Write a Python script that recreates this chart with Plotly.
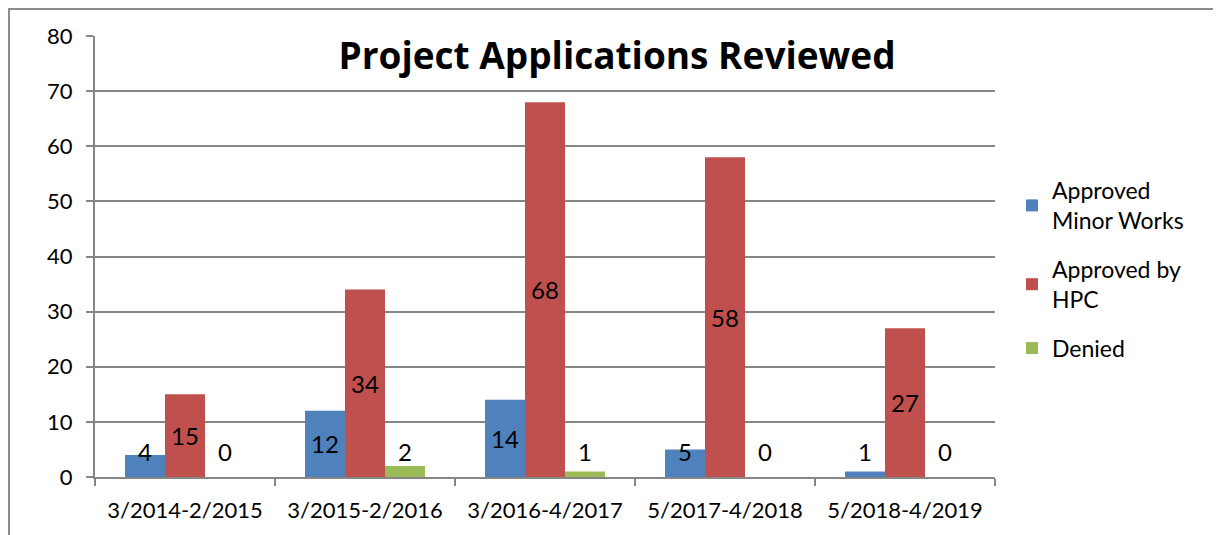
import plotly.graph_objects as go

categories = ["3/2014-2/2015", "3/2015-2/2016", "3/2016-4/2017", "5/2017-4/2018", "5/2018-4/2019"]
approved_minor = [4, 12, 14, 5, 1]
approved_hpc = [15, 34, 68, 58, 27]
denied = [0, 2, 1, 0, 0]

series = [
    ("Approved<br>Minor Works", approved_minor, "#4F81BD"),
    ("Approved by<br>HPC", approved_hpc, "#C0504D"),
    ("Denied", denied, "#9BBB59"),
]

FONT = "Lato"
# page body has an 8px margin, so the figure is 8px smaller than the window
W, H = 1213, 527
ML, MR, MT, MB = 87, 226, 28, 58
PW = W - ML - MR
PH = H - MT - MB

fig = go.Figure()
for name, vals, color in series:
    fig.add_trace(go.Bar(
        x=categories, y=vals, name=name, legendgroup=name,
        marker=dict(color=color, line=dict(width=0)),
    ))

# data labels centred in bars (with minimum height, as in the source)
offsets = [-40, 0, 40]
for (name, vals, color), dx in zip(series, offsets):
    for c, v in zip(categories, vals):
        fig.add_annotation(
            x=c, y=max(v / 2, 4.7), text=str(v), showarrow=False,
            xshift=dx, font=dict(family=FONT, size=24, color="black"),
            xanchor="center", yanchor="middle",
        )

# outer chart border (partially cropped in source)
fig.add_shape(
    type="rect", xref="paper", yref="paper",
    x0=(1 - ML) / PW, x1=1.5, y0=-0.5, y1=(H - MB - 1) / PH,
    line=dict(color="#8C8C8C", width=2), fillcolor="rgba(0,0,0,0)", layer="below",
)

fig.update_layout(
    width=W, height=H,
    margin=dict(l=ML, r=MR, t=MT, b=MB, pad=0),
    paper_bgcolor="white", plot_bgcolor="white",
    barmode="group", bargap=1 / 3, bargroupgap=0,
    font=dict(family=FONT, size=22, color="black"),
    title=dict(
        text="<b>Project Applications Reviewed</b>",
        font=dict(family="Open Sans", size=37, color="black"),
        x=(609 - ML) / PW, xref="paper", xanchor="center",
        y=1 - 48 / H, yref="container", yanchor="middle",
    ),
    legend=dict(
        x=(1004 - ML) / PW, y=(H - MB - 161) / PH, xanchor="left", yanchor="top",
        font=dict(family=FONT, size=23, color="black"),
        tracegroupgap=16, itemwidth=30, bgcolor="rgba(0,0,0,0)",
    ),
    showlegend=True,
)
fig.update_xaxes(
    type="category", showline=True, linecolor="#868686", linewidth=2,
    ticks="outside", tickson="boundaries", ticklen=7, tickcolor="#868686", tickwidth=2,
    showgrid=False, ticklabelstandoff=13,
    tickfont=dict(family=FONT, size=22, color="black"),
)
fig.update_yaxes(
    range=[0, 80], dtick=10, showline=True, linecolor="#868686", linewidth=2,
    ticks="outside", ticklen=7, tickcolor="#868686", tickwidth=2,
    showgrid=True, gridcolor="#868686", gridwidth=1.5, zeroline=False,
    ticklabelstandoff=9,
    tickfont=dict(family=FONT, size=22, color="black"),
)

fig.write_html("out.html")
